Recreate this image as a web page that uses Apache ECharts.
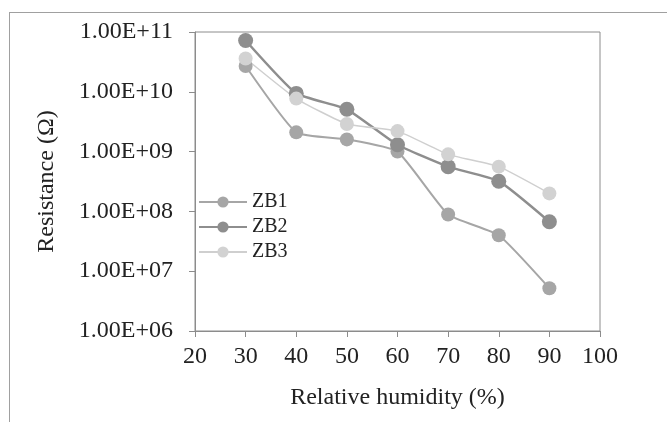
<!DOCTYPE html>
<html>
<head>
<meta charset="utf-8">
<script src="https://cdn.jsdelivr.net/npm/echarts@6/dist/echarts.min.js"></script>
<style>
  html, body { margin: 0; padding: 0; background: #fff; }
  /* 外框：只看得到上边和左边 */
  #frame { position: absolute; left: 9px; top: 12px; width: 680px; height: 420px;
           border-top: 1px solid #a0a0a0; border-left: 1px solid #a0a0a0; }
  #chart { position: absolute; left: 0; top: 0; width: 667px; height: 422px; }
</style>
</head>
<body>
<div id="frame"></div>
<div id="chart"></div>
<script>
// 湿度 (%)
const humidity = [30, 40, 50, 60, 70, 80, 90]
// 电阻 (Ω)
const zb1 = [2.7e10, 2.1e9, 1.6e9, 1.0e9, 8.9e7, 4.0e7, 5.2e6]
const zb2 = [7.2e10, 9.4e9, 5.1e9, 1.3e9, 5.6e8, 3.2e8, 6.7e7]
const zb3 = [3.6e10, 7.7e9, 2.9e9, 2.2e9, 9.0e8, 5.6e8, 2.0e8]
const seriesNames = ['ZB1', 'ZB2', 'ZB3']

const pair = arr => humidity.map((h, i) => [h, arr[i]])

// 1.00E+11 这种格式
const sciLabel = v => {
  const e = Math.round(Math.log10(v))
  return '1.00E+' + (e < 10 ? '0' + e : e)
}

const font = 'Liberation Serif'
const chart = echarts.init(document.getElementById('chart'))

const option = {
  animation: false,
  textStyle: { fontFamily: font },
  grid: {
    left: 195, right: 67, top: 32, bottom: 91,
    show: true, borderColor: '#8c8c8c', borderWidth: 1
  },
  legend: {
    data: seriesNames,
    orient: 'vertical',
    left: 193,
    top: 187,
    itemWidth: 48,
    itemHeight: 14,
    itemGap: 5,
    textStyle: { fontFamily: font, fontSize: 20, color: '#222' }
  },
  xAxis: {
    type: 'value',
    min: 20, max: 100, interval: 10,
    name: 'Relative humidity (%)',
    nameLocation: 'middle',
    nameGap: 55,
    nameTextStyle: { fontFamily: font, fontSize: 24, color: '#222' },
    axisLine: { lineStyle: { color: '#8c8c8c' } },
    axisTick: { show: true, length: 6, lineStyle: { color: '#8c8c8c' } },
    axisLabel: { fontFamily: font, fontSize: 24, color: '#222', margin: 14 },
    splitLine: { show: false }
  },
  yAxis: {
    type: 'log',
    logBase: 10,
    min: 1e6, max: 1e11,
    name: 'Resistance (Ω)',
    nameLocation: 'middle',
    nameGap: 136,
    nameTextStyle: { fontFamily: font, fontSize: 24, color: '#222' },
    axisLine: { show: true, lineStyle: { color: '#8c8c8c' } },
    axisTick: { show: true, length: 6, lineStyle: { color: '#8c8c8c' } },
    axisLabel: { fontFamily: font, fontSize: 24, color: '#222', margin: 22, formatter: sciLabel },
    splitLine: { show: false },
    minorTick: { show: false }
  },
  series: [
    {
      name: 'ZB1', type: 'line', data: pair(zb1),
      smooth: 0.15,
      symbol: 'circle', symbolSize: 14,
      lineStyle: { color: '#a6a6a6', width: 2 },
      itemStyle: { color: '#a6a6a6' }
    },
    {
      name: 'ZB2', type: 'line', data: pair(zb2),
      smooth: 0.15,
      symbol: 'circle', symbolSize: 15,
      lineStyle: { color: '#8e8e8e', width: 2.5 },
      itemStyle: { color: '#8e8e8e' }
    },
    {
      name: 'ZB3', type: 'line', data: pair(zb3),
      smooth: 0.15,
      symbol: 'circle', symbolSize: 14,
      lineStyle: { color: '#cfcfcf', width: 1.5 },
      itemStyle: { color: '#d2d2d2' }
    }
  ]
}

chart.setOption(option)
</script>
</body>
</html>
